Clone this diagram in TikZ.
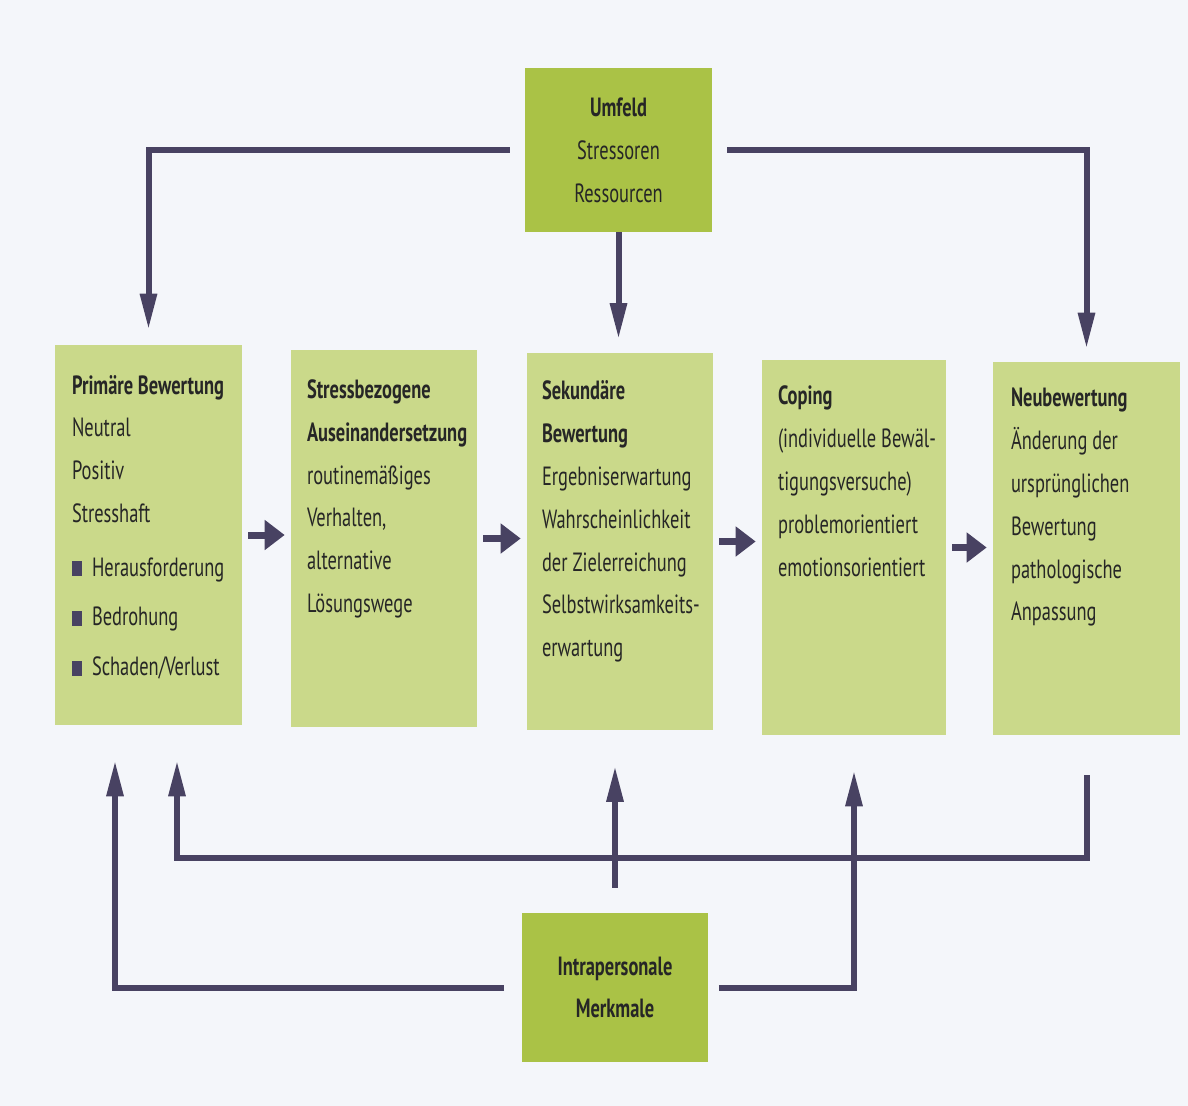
\documentclass[tikz,border=0pt]{standalone}
\usepackage{fontspec}
\setmainfont{PT Sans}[FakeStretch=0.7]
\usetikzlibrary{arrows.meta,positioning}
\definecolor{boxgreen}{RGB}{202,217,138}
\definecolor{keygreen}{RGB}{170,194,70}
\definecolor{arrowgray}{RGB}{72,66,98}
\definecolor{paper}{RGB}{244,246,250}
\definecolor{inkdark}{RGB}{38,38,38}
\newcommand{\sqbullet}{\textcolor{arrowgray}{\rule{0.2cm}{0.3cm}}\hspace{0.2cm}}
\tikzset{
  stage/.style={fill=boxgreen, minimum width=3.74cm, minimum height=7.56cm, inner sep=0pt},
  keybox/.style={fill=keygreen, minimum width=3.74cm, inner sep=0pt, align=center,
    text=inkdark, font=\fontsize{15}{24.4}\selectfont},
  stagetext/.style={anchor=north west, align=left, inner sep=0pt, text=inkdark,
    font=\fontsize{15}{24.4}\selectfont},
  flow/.style={draw=arrowgray, line width=0.12cm, -{Triangle[length=0.72cm,width=0.32cm]}},
  next/.style={draw=arrowgray, line width=0.14cm, -{Triangle[length=0.4cm,width=0.58cm]},
    shorten <=0.12cm, shorten >=0.12cm}
}
\begin{document}
\begin{tikzpicture}[x=0.02cm,y=-0.02cm]
\fill[paper] (0,0) rectangle (1188,1106);
\useasboundingbox (0,0) rectangle (1188,1106);

% outer influences
\node[keybox, minimum height=3.28cm] (umfeld) at (618.5,150) {{\bfseries Umfeld}\\Stressoren\\Ressourcen};
\node[keybox, minimum height=2.98cm] (intra) at (615,987.5) {{\bfseries Intrapersonale}\\{\bfseries Merkmale}};

% appraisal stages
\node[stage, minimum height=7.6cm] (prim) at (148.5,535) {};
\node[stage, minimum width=3.72cm] (stress) at (384,538.5) {};
\node[stage, minimum width=3.72cm] (sek) at (620,541.5) {};
\node[stage, minimum width=3.68cm, minimum height=7.5cm] (coping) at (854,547.5) {};
\node[stage, minimum height=7.46cm] (neu) at (1086.5,548.5) {};

\node[stagetext] (primtext) at ([shift={(17,30)}]prim.north west)
  {\bfseries Primäre Bewertung\\Neutral\\Positiv\\Stresshaft\\[6pt]
   \sqbullet Herausforderung\\[4pt]\sqbullet Bedrohung\\[4pt]\sqbullet Schaden/Verlust};
\node[stagetext] (stresstext) at ([shift={(16,30)}]stress.north west)
  {\bfseries Stressbezogene\\\bfseries Auseinandersetzung\\routinemäßiges\\Verhalten,\\alternative\\Lösungswege};
\node[stagetext] (sektext) at ([shift={(15,28)}]sek.north west)
  {\bfseries Sekundäre\\\bfseries Bewertung\\Ergebniserwartung\\Wahrscheinlichkeit\\der Zielerreichung\\Selbstwirksamkeits-\\erwartung};
\node[stagetext] (copingtext) at ([shift={(16,26)}]coping.north west)
  {\bfseries Coping\\(individuelle Bewäl-\\tigungsversuche)\\problemorientiert\\emotionsorientiert};
\node[stagetext] (neutext) at ([shift={(18,26)}]neu.north west)
  {\bfseries Neubewertung\\Änderung der\\ursprünglichen\\Bewertung\\pathologische\\Anpassung};

% sequence
\draw[next] (prim.east) -- (prim.east -| stress.west);
\draw[next] (stress.east) -- (stress.east -| sek.west);
\draw[next] (sek.east) -- (sek.east -| coping.west);
\draw[next] (coping.east) -- (coping.east -| neu.west);

% from Umfeld
\draw[flow, shorten <=0.3cm, shorten >=0.3cm] (umfeld.west) -| (prim.north);
\draw[flow, shorten >=0.26cm] (umfeld.south) -- (umfeld.south |- sek.north);
\draw[flow, shorten <=0.3cm, shorten >=0.26cm] (umfeld.east) -| (neu.north);

% from Intrapersonale Merkmale
\coordinate (loop) at (0,858);
\draw[flow, shorten <=0.34cm, shorten >=0.7cm] (intra.west) -| ([xshift=-0.67cm]prim.south);
\draw[flow, shorten <=0.5cm, shorten >=0.7cm] (intra.north) -- (intra.north |- sek.south);
\draw[flow, shorten <=0.2cm, shorten >=0.7cm] (intra.east) -| (coping.south);

% feedback
\draw[flow, shorten <=0.8cm, shorten >=0.7cm] (neu.south) |- ([xshift=0.57cm]prim.south |- loop) -- ([xshift=0.57cm]prim.south);
\end{tikzpicture}
\end{document}
